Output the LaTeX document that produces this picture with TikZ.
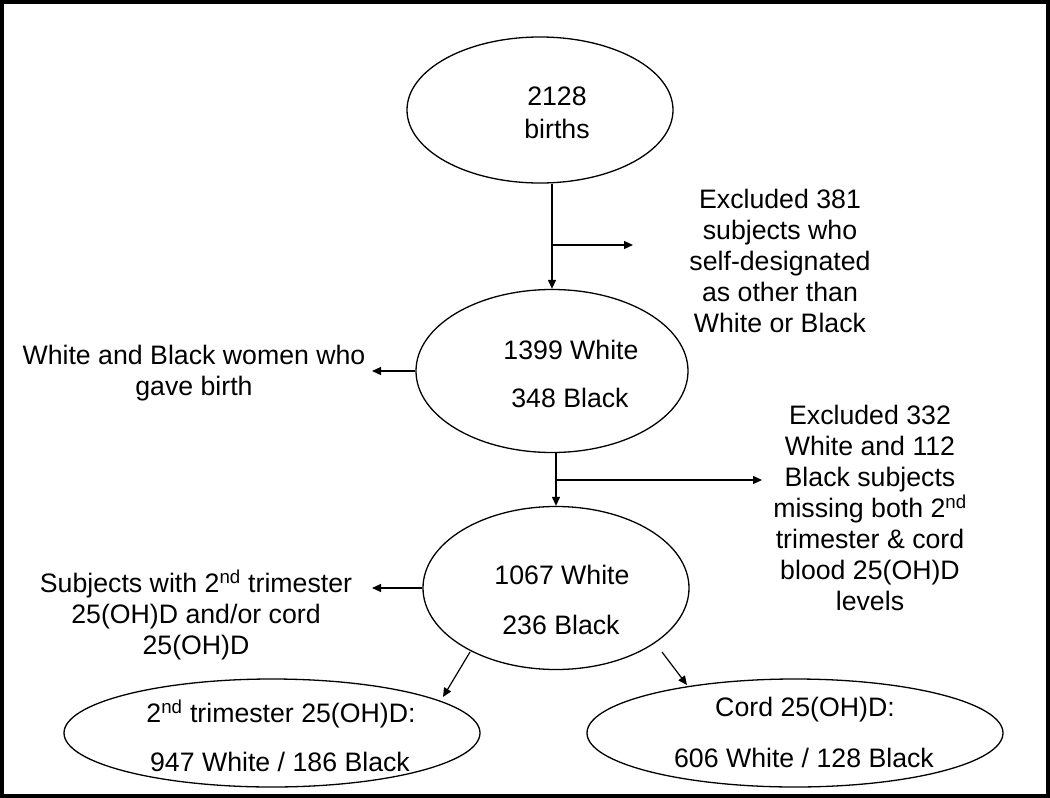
\documentclass[tikz,border=0pt]{standalone}
\usepackage{fontspec}
\setmainfont{Liberation Sans}
\usetikzlibrary{arrows.meta,shapes.geometric}
\begin{document}
\begin{tikzpicture}[x=1pt,y=-1pt,
  ell/.style={draw,ellipse,line width=1.3pt,inner sep=0pt},
  txt/.style={font=\fontsize{26.7}{31}\selectfont,align=center,inner sep=0pt},
  arr/.style={line width=1.2pt,-{Triangle[length=9pt,width=8pt]}},
  ln/.style={line width=1.2pt}]
\useasboundingbox (0,0) rectangle (1050,798);
\draw[line width=4pt] (2,2) rectangle (1048,796);

% ellipses
\node[ell,minimum width=266pt,minimum height=146pt] (e1) at (540,110) {};
\node[ell,minimum width=272pt,minimum height=163pt] (e2) at (552,371) {};
\node[ell,minimum width=266pt,minimum height=163pt] (e3) at (556,588) {};
\node[ell,minimum width=416pt,minimum height=108pt] (e4) at (272,733) {};
\node[ell,minimum width=416pt,minimum height=108pt] (e5) at (795,733) {};

% texts inside ellipses
\node[txt] (t1) at (557,113) {2128\\[2pt]births};
\node[txt] (t2a) at (571,350) {1399 White};
\node[txt] (t2b) at (570,398) {348 Black};
\node[txt] (t3a) at (562,575) {1067 White};
\node[txt] (t3b) at (561,625) {236 Black};
\node[txt] (t4a) at (281,714) {2\textsuperscript{nd} trimester 25(OH)D:};
\node[txt] (t4b) at (280,762) {947 White / 186 Black};
\node[txt] (t5a) at (805,710) {Cord 25(OH)D:};
\node[txt] (t5b) at (804,758) {606 White / 128 Black};

% side texts
\node[txt] (s1) at (780,261) {Excluded 381\\subjects who\\self-designated\\as other than\\White or Black};
\node[txt] (s2) at (194,373) {White and Black women who\\gave birth};
\node[txt] (s3) at (870,508) {Excluded 332\\White and 112\\Black subjects\\missing both 2\textsuperscript{nd}\\trimester \& cord\\blood 25(OH)D\\levels};
\node[txt] (s4) at (196,615) {Subjects with 2\textsuperscript{nd} trimester\\25(OH)D and/or cord\\25(OH)D};

% connector coordinates
\coordinate (b1) at (552,245);
\coordinate (b1e) at (633,245);
\coordinate (b2) at (556,480);
\coordinate (b2e) at (762,480);
\coordinate (l1e) at (372,371);
\coordinate (l2e) at (372,588);
\coordinate (d1s) at (470,652);
\coordinate (d1e) at (443,697);
\coordinate (d2s) at (662,652);
\coordinate (d2e) at (687,685);

% connectors
\draw[arr] (e1.south -| e2.north) -- (e2.north);
\draw[arr] (b1) -- (b1e);
\draw[arr] (e2.west) -- (l1e);
\draw[arr] (e2.south -| e3.north) -- (e3.north);
\draw[arr] (b2) -- (b2e);
\draw[arr] (e3.west) -- (l2e);
\draw[arr] (d1s) -- (d1e);
\draw[arr] (d2s) -- (d2e);
\end{tikzpicture}
\end{document}
